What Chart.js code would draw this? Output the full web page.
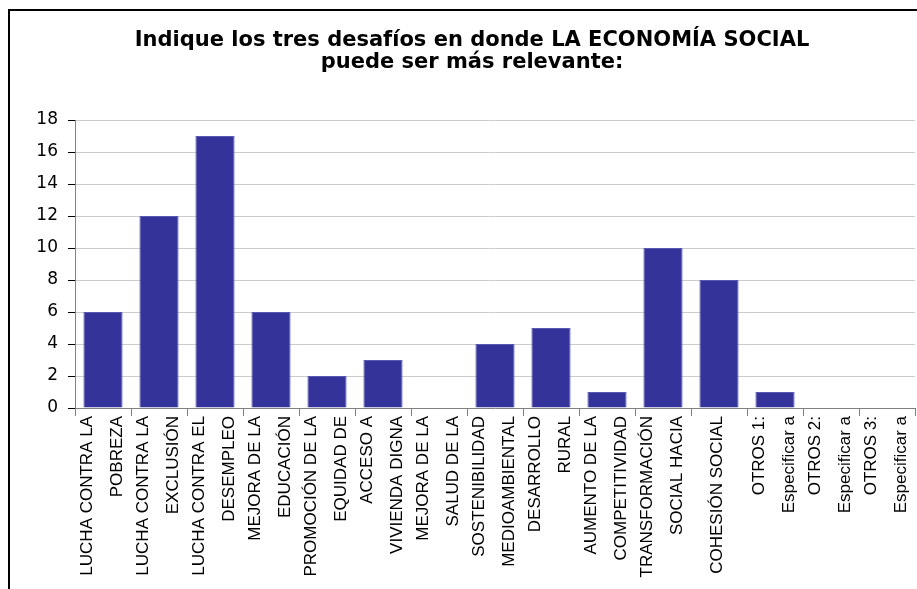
<!DOCTYPE html>
<html>
<head>
<meta charset="utf-8">
<script src="https://cdn.jsdelivr.net/npm/chart.js@4.4.1/dist/chart.umd.min.js"></script>
<style>
  html, body { margin: 0; padding: 0; background: #fff; width: 917px; height: 589px; overflow: hidden; }
  #frame { position: absolute; left: 8px; top: 9px; width: 1000px; height: 700px; border: 2px solid #000; box-sizing: border-box; }
  #wrap { position: absolute; left: 0; top: 0; width: 917px; height: 589px; }
</style>
</head>
<body>
<div id="frame"></div>
<div id="wrap"><canvas id="c" width="917" height="589"></canvas></div>
<script>
const titleLines = ["Indique los tres desafíos en donde LA ECONOMÍA SOCIAL", "puede ser más relevante:"];
const categories = [
  ["LUCHA CONTRA LA", "POBREZA"],
  ["LUCHA CONTRA LA", "EXCLUSIÓN"],
  ["LUCHA CONTRA EL", "DESEMPLEO"],
  ["MEJORA DE LA", "EDUCACIÓN"],
  ["PROMOCIÓN DE LA", "EQUIDAD DE"],
  ["ACCESO A", "VIVIENDA DIGNA"],
  ["MEJORA DE LA", "SALUD DE LA"],
  ["SOSTENIBILIDAD", "MEDIOAMBIENTAL"],
  ["DESARROLLO", "RURAL"],
  ["AUMENTO DE LA", "COMPETITIVIDAD"],
  ["TRANSFORMACIÓN", "SOCIAL HACIA"],
  ["", "COHESIÓN SOCIAL"],
  ["OTROS 1:", "Especificar a"],
  ["OTROS 2:", "Especificar a"],
  ["OTROS 3:", "Especificar a"]
];
const values = [6, 12, 17, 6, 2, 3, 0, 4, 5, 1, 10, 8, 1, 0, 0];
const yMin = 0, yMax = 18, yStep = 2;

const labelFamily = '"Liberation Sans", Arial, sans-serif';

new Chart(document.getElementById('c'), {
  type: 'bar',
  data: {
    labels: categories,
    datasets: [{
      data: values,
      backgroundColor: '#333399',
      borderColor: '#5a5ab4',
      borderWidth: 1,
      barPercentage: 0.7,
      categoryPercentage: 1.0
    }]
  },
  options: {
    responsive: false,
    animation: false,
    devicePixelRatio: 1,
    layout: { padding: { left: 29, right: 2, top: 0, bottom: 0 } },
    plugins: {
      legend: { display: false },
      tooltip: { enabled: false },
      title: {
        display: true,
        text: titleLines,
        color: '#000',
        font: { family: '"DejaVu Sans", Verdana, sans-serif', size: 21, weight: 'bold', lineHeight: '22px' },
        padding: { top: 30, bottom: 46 }
      }
    },
    scales: {
      x: {
        grid: { display: true, drawOnChartArea: false, tickLength: 8, tickColor: '#808080', offset: true },
        border: { color: '#808080', width: 1 },
        ticks: {
          autoSkip: false,
          maxRotation: 90,
          minRotation: 90,
          padding: 0,
          labelOffset: -16,
          color: '#000',
          font: (ctx) => ({
            family: labelFamily,
            size: 17,
            lineHeight: (ctx.index === 11) ? '14px' : '30px'
          })
        },
        afterFit: (scale) => { scale.height = 181; scale.paddingLeft = 0; scale.paddingRight = 0; }
      },
      y: {
        min: yMin,
        max: yMax,
        grid: { color: '#cccccc', tickLength: 7, tickColor: '#000' },
        border: { color: '#808080', width: 1 },
        ticks: {
          stepSize: yStep,
          padding: 10,
          color: '#000',
          font: { family: '"DejaVu Sans", Verdana, sans-serif', size: 17 }
        },
        afterFit: (scale) => { scale.width = 46; scale.paddingTop = 0; scale.paddingBottom = 0; }
      }
    }
  }
});
</script>
</body>
</html>
